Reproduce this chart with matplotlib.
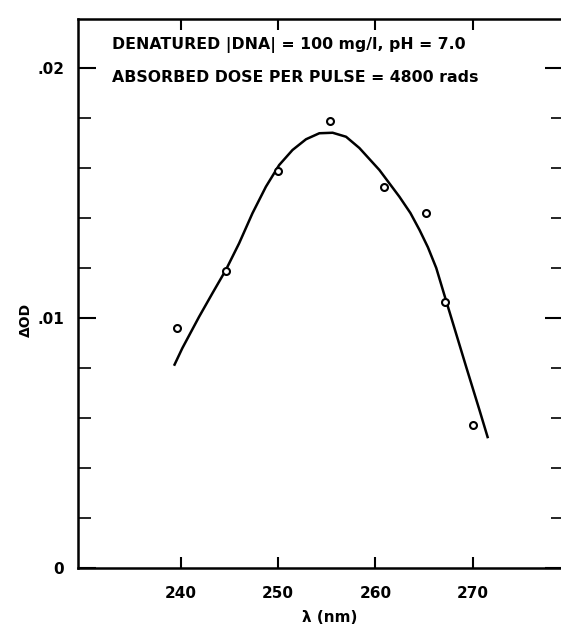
import matplotlib
matplotlib.use("Agg")
from matplotlib import pyplot as plt
from matplotlib.ticker import MultipleLocator, FixedLocator

# Measured points (wavelength in nm, change in optical density)
wavelength = [239.6, 244.6, 250.0, 255.3, 260.9, 265.2, 267.2, 270.0]
delta_od = [0.00959, 0.01189, 0.01588, 0.01789, 0.01523, 0.01419, 0.01063, 0.00572]

# Hand-drawn smooth curve
curve_x = [239.28, 240.13, 241.86, 243.23, 244.61, 245.98, 247.35, 248.73, 250.10, 251.47,
           252.86, 254.23, 255.60, 256.98, 258.35, 260.41, 262.47, 263.6, 264.54, 265.4,
           266.26, 267.11, 267.97, 269.35, 270.72, 271.58]
curve_y = [0.00809, 0.00879, 0.01005, 0.01099, 0.01192, 0.01299, 0.01419, 0.01525, 0.01612, 0.01672,
           0.01715, 0.01739, 0.01741, 0.01725, 0.01680, 0.01592, 0.01485, 0.01420, 0.01352, 0.01283,
           0.01200, 0.01090, 0.00980, 0.00803, 0.00630, 0.00519]

x_ticks = [240, 250, 260, 270]
y_ticks = [0, 0.01, 0.02]
y_tick_labels = ["0", ".01", ".02"]

W, H = 561, 627
fig = plt.figure(figsize=(W / 100, H / 100), dpi=100)
ax = fig.add_axes([78 / W, (H - 568) / H, (563 - 78) / W, (568 - 19) / H])

ax.plot(curve_x, curve_y, color="black", linewidth=1.8,
        solid_joinstyle="round", solid_capstyle="butt")
ax.plot(wavelength, delta_od, linestyle="none", marker="o", markersize=5,
        markerfacecolor="white", markeredgecolor="black", markeredgewidth=1.5)

ax.set_xlim(229.4, 279.3)
ax.set_ylim(0, 0.02196)

ax.xaxis.set_major_locator(FixedLocator(x_ticks))
ax.set_xticklabels([str(t) for t in x_ticks])
ax.yaxis.set_major_locator(FixedLocator(y_ticks))
ax.set_yticklabels(y_tick_labels)
ax.yaxis.set_minor_locator(MultipleLocator(0.002))

for side in ["left", "bottom", "top", "right"]:
    ax.spines[side].set_linewidth(1.8)

ax.tick_params(axis="both", which="major", direction="in", width=1.5,
               top=True, right=True, labelsize=11)
ax.tick_params(axis="y", which="major", length=13, pad=10)
ax.tick_params(axis="y", which="minor", direction="in", length=9, width=1.2, right=True)
ax.tick_params(axis="x", which="major", length=8, pad=13)
for lab in ax.get_xticklabels() + ax.get_yticklabels():
    lab.set_fontweight("bold")

ax.set_xlabel("λ (nm)", fontsize=11, fontweight="bold", va="center")
ax.xaxis.set_label_coords((330 - 78) / (563 - 78), -(617 - 568) / 549)
ax.set_ylabel("ΔOD", fontsize=10, fontweight="bold", va="center")
ax.yaxis.set_label_coords((26 - 78) / (563 - 78), (568 - 320) / 549)

fig.text(112 / W, 1 - 45 / H, "DENATURED |DNA| = 100 mg/l, pH = 7.0",
         fontsize=11.3, fontweight="bold", va="center", ha="left")
fig.text(112 / W, 1 - 78 / H, "ABSORBED DOSE PER PULSE = 4800 rads",
         fontsize=11.3, fontweight="bold", va="center", ha="left")

fig.savefig("out.png", dpi=100)
